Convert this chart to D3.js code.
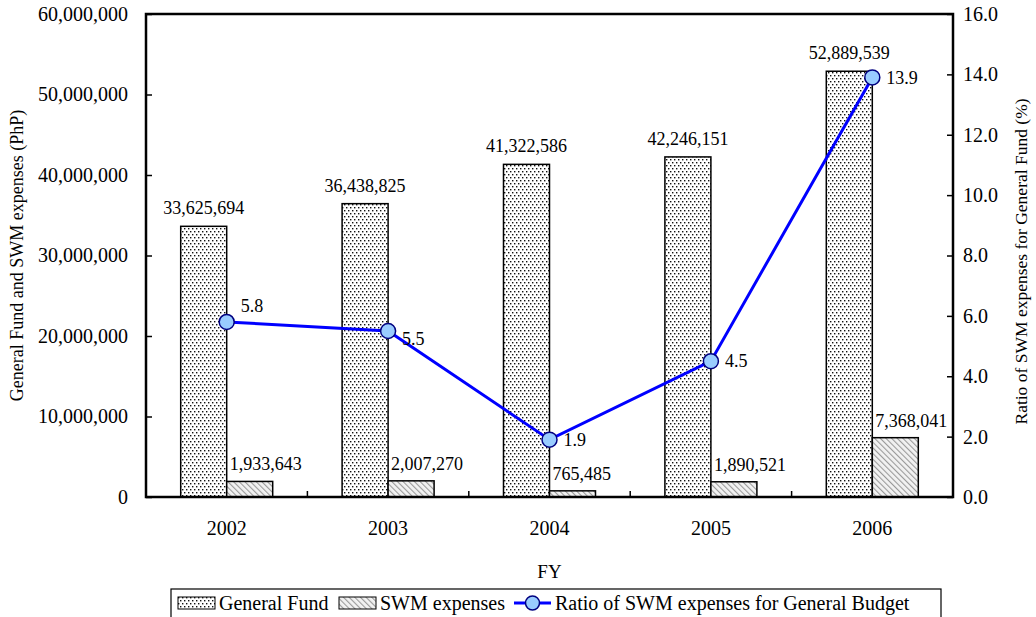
<!DOCTYPE html>
<html>
<head>
<meta charset="utf-8">
<script src="https://cdn.jsdelivr.net/npm/d3@7"></script>
<style>
  html, body { margin: 0; padding: 0; background: #fff; }
  svg { display: block; font-family: "Liberation Serif", "Times New Roman", serif; }
</style>
</head>
<body>
<svg id="chart" width="1036" height="617"></svg>
<script>
// Fiscal years and budget figures (PhP)
const years = ["2002", "2003", "2004", "2005", "2006"];
const generalFund = [33625694, 36438825, 41322586, 42246151, 52889539];
const swmExpenses = [1933643, 2007270, 765485, 1890521, 7368041];
// Share of SWM expenses in the general fund (%)
const ratio = [5.8, 5.5, 1.9, 4.5, 13.9];
// Axis ticks
const leftTicks = [0, 10000000, 20000000, 30000000, 40000000, 50000000, 60000000];
const rightTicks = [0, 2, 4, 6, 8, 10, 12, 14, 16];
// Vertical nudges for the ratio labels (px)
const ratioLabelNudge = [-16, 8, 0, 0, 0];

const svg = d3.select("#chart");
const plot = { left: 146, right: 953, top: 14, bottom: 497 };

const x = d3.scaleBand().domain(years).range([plot.left, plot.right]).padding(0);
const barW = 46;
const series = d3.scaleBand().domain(["gf", "swm"]).range([-barW, barW]);
const yL = d3.scaleLinear().domain([0, 60000000]).range([plot.bottom, plot.top]);
const yR = d3.scaleLinear().domain([0, 16]).range([plot.bottom, plot.top]);
const cx = d => x(d) + x.bandwidth() / 2;

const fmtInt = d3.format(",");
const fmtPct = d3.format(".1f");

// Fill patterns
const defs = svg.append("defs");
const dots = defs.append("pattern").attr("id", "dots")
  .attr("patternUnits", "userSpaceOnUse").attr("width", 4).attr("height", 6);
dots.append("rect").attr("width", 4).attr("height", 6).attr("fill", "#fff");
dots.append("rect").attr("x", 0).attr("y", 0).attr("width", 1.4).attr("height", 1.4).attr("fill", "#111");
dots.append("rect").attr("x", 2).attr("y", 3).attr("width", 1.4).attr("height", 1.4).attr("fill", "#111");

const hatch = defs.append("pattern").attr("id", "hatch")
  .attr("patternUnits", "userSpaceOnUse").attr("width", 4).attr("height", 4)
  .attr("patternTransform", "rotate(-45)");
hatch.append("rect").attr("width", 4).attr("height", 4).attr("fill", "#f2f2f2");
hatch.append("line").attr("x1", 0).attr("y1", 0).attr("x2", 0).attr("y2", 4)
  .attr("stroke", "#9a9a9a").attr("stroke-width", 2.2);

// Bars
const gfBars = years.map((y, i) => ({ year: y, v: generalFund[i] }));
const swmBars = years.map((y, i) => ({ year: y, v: swmExpenses[i] }));

svg.append("g").selectAll("rect").data(gfBars).join("rect")
  .attr("x", d => cx(d.year) + series("gf"))
  .attr("y", d => yL(d.v))
  .attr("width", series.bandwidth())
  .attr("height", d => yL(0) - yL(d.v))
  .attr("fill", "url(#dots)").attr("stroke", "#000").attr("stroke-width", 1.5);

svg.append("g").selectAll("rect").data(swmBars).join("rect")
  .attr("x", d => cx(d.year) + series("swm"))
  .attr("y", d => yL(d.v))
  .attr("width", series.bandwidth())
  .attr("height", d => yL(0) - yL(d.v))
  .attr("fill", "url(#hatch)").attr("stroke", "#000").attr("stroke-width", 1.5);

// Bar value labels
svg.append("g").selectAll("text").data(gfBars).join("text")
  .attr("x", d => cx(d.year) + series("gf") + series.bandwidth() / 2)
  .attr("y", d => yL(d.v) - 12)
  .attr("text-anchor", "middle").attr("font-size", 18)
  .text(d => fmtInt(d.v));

svg.append("g").selectAll("text").data(swmBars).join("text")
  .attr("x", d => cx(d.year) + series("swm") + 3)
  .attr("y", d => yL(d.v) - 11)
  .attr("text-anchor", "start").attr("font-size", 18)
  .text(d => fmtInt(d.v));

// Axes
const axisL = svg.append("g").attr("transform", `translate(${plot.left},0)`)
  .call(d3.axisLeft(yL).tickValues(leftTicks).tickSize(-6).tickSizeOuter(0)
    .tickPadding(18).tickFormat(d3.format(",")));
const axisR = svg.append("g").attr("transform", `translate(${plot.right},0)`)
  .call(d3.axisRight(yR).tickValues(rightTicks).tickSize(-6).tickSizeOuter(0)
    .tickPadding(10).tickFormat(d3.format(".1f")));
const axisB = svg.append("g").attr("transform", `translate(0,${plot.bottom})`)
  .call(d3.axisBottom(x).tickSize(0).tickPadding(24));
[axisL, axisR, axisB].forEach(g => {
  g.select(".domain").remove();
  g.selectAll("text").attr("font-family", "Liberation Serif, Times New Roman, serif")
    .attr("font-size", 20).attr("fill", "#000");
  g.selectAll("line").attr("stroke", "#000").attr("stroke-width", 1.5);
});

// Category separator ticks on the x axis
svg.append("g").selectAll("line").data(years.slice(0, -1)).join("line")
  .attr("x1", d => x(d) + x.bandwidth()).attr("x2", d => x(d) + x.bandwidth())
  .attr("y1", plot.bottom).attr("y2", plot.bottom - 6)
  .attr("stroke", "#000").attr("stroke-width", 1.5);

// Plot frame
svg.append("rect")
  .attr("x", plot.left).attr("y", plot.top)
  .attr("width", plot.right - plot.left).attr("height", plot.bottom - plot.top)
  .attr("fill", "none").attr("stroke", "#000").attr("stroke-width", 2.5);

// Ratio line with markers
const pts = years.map((y, i) => ({ year: y, v: ratio[i], nudge: ratioLabelNudge[i] }));
svg.append("path").datum(pts)
  .attr("d", d3.line().x(d => cx(d.year)).y(d => yR(d.v)))
  .attr("fill", "none").attr("stroke", "#0000ff").attr("stroke-width", 3);
svg.append("g").selectAll("circle").data(pts).join("circle")
  .attr("cx", d => cx(d.year)).attr("cy", d => yR(d.v)).attr("r", 7.5)
  .attr("fill", "#99ccff").attr("stroke", "#000080").attr("stroke-width", 1.5);
svg.append("g").selectAll("text").data(pts).join("text")
  .attr("x", d => cx(d.year) + 14)
  .attr("y", d => yR(d.v) + d.nudge)
  .attr("dy", "0.35em").attr("font-size", 18)
  .text(d => fmtPct(d.v));

// Axis titles
svg.append("text").attr("x", 549.5).attr("y", 578).attr("text-anchor", "middle")
  .attr("font-size", 19).text("FY");
svg.append("text")
  .attr("transform", `translate(23,${(plot.top + plot.bottom) / 2}) rotate(-90)`)
  .attr("text-anchor", "middle").attr("font-size", 18)
  .text("General Fund and SWM expenses (PhP)");
svg.append("text")
  .attr("transform", `translate(1027,${(plot.top + plot.bottom) / 2 + 6}) rotate(-90)`)
  .attr("text-anchor", "middle").attr("font-size", 17.5)
  .text("Ratio of SWM expenses for General Fund (%)");

// Legend
const lg = svg.append("g");
lg.append("rect").attr("x", 171).attr("y", 589).attr("width", 770).attr("height", 30)
  .attr("fill", "#fff").attr("stroke", "#000").attr("stroke-width", 1.2);
const legendItems = [
  { label: "General Fund", kind: "gf", x: 178 },
  { label: "SWM expenses", kind: "swm", x: 339 },
  { label: "Ratio of SWM expenses for General Budget", kind: "line", x: 514 }
];
legendItems.forEach(it => {
  if (it.kind === "line") {
    lg.append("line").attr("x1", it.x).attr("x2", it.x + 37).attr("y1", 603).attr("y2", 603)
      .attr("stroke", "#0000ff").attr("stroke-width", 3);
    lg.append("circle").attr("cx", it.x + 18.5).attr("cy", 603).attr("r", 7)
      .attr("fill", "#99ccff").attr("stroke", "#000080").attr("stroke-width", 1.5);
  } else {
    lg.append("rect").attr("x", it.x).attr("y", 597).attr("width", 37).attr("height", 12)
      .attr("fill", it.kind === "gf" ? "url(#dots)" : "url(#hatch)")
      .attr("stroke", "#000").attr("stroke-width", 1);
  }
  lg.append("text").attr("x", it.x + 41).attr("y", 610).attr("font-size", 20).text(it.label);
});
</script>
</body>
</html>
